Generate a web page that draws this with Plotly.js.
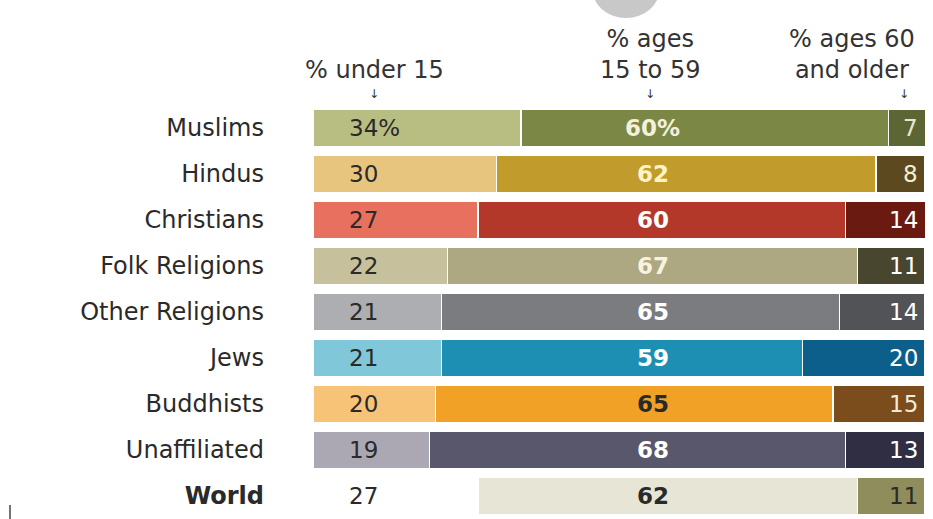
<!DOCTYPE html>
<html>
<head>
<meta charset="utf-8">
<script src="https://cdn.plot.ly/plotly-3.0.1.min.js"></script>
<style>html,body{margin:0;padding:0;background:#fff;}#chart{width:933px;height:519px;}</style>
</head>
<body>
<div id="chart"></div>
<script>
var categories = ["Muslims","Hindus","Christians","Folk Religions","Other Religions","Jews","Buddhists","Unaffiliated","World"];
var under15 = [34,30,27,22,21,21,20,19,27];
var ages15to59 = [60,62,60,67,65,59,65,68,62];
var ages60plus = [7,8,14,11,14,20,15,13,11];
var labels15 = ["34%","30","27","22","21","21","20","19","27"];
var labelsMid = ["60%","62","60","67","65","59","65","68","62"];
var labels60 = ["7","8","14","11","14","20","15","13","11"];
var headers = ["% under 15","% ages<br>15 to 59","% ages 60<br>and older"];

var colUnder = ["#b8be82","#e7c57f","#e8705f","#c6c09d","#adaeb2","#80c8d9","#f7c477","#aba8b3","#ffffff"];
var colMid   = ["#7b8845","#c29b2d","#b3382a","#ada881","#7a7c80","#1c8fb3","#f1a226","#58576b","#e7e5d6"];
var colOld   = ["#5c6635","#5c4920","#6b1a12","#48462f","#515357","#0d5f8b","#7b4c1c","#2f2e42","#8f8d5c"];
var txtMid   = ["#f3f0dc","#fff4c8","#ffffff","#f7f3e0","#ffffff","#ffffff","#2a2a2a","#ffffff","#2a2a2a"];
var txtOld   = ["#e8e6d0","#f4eed6","#ffffff","#ffffff","#ffffff","#ffffff","#f4ead8","#ffffff","#2a2a2a"];

var font = "DejaVu Sans, Liberation Sans, sans-serif";
var idx = categories.map(function(c,i){return i;});
var tickText = categories.map(function(c){return c==="World" ? "<b>World</b>" : c;});

function mk(vals, cols){
  return {type:"bar", orientation:"h", y:idx, x:vals, width:0.8,
    marker:{color:cols, line:{color:"#ffffff", width:1.5}},
    hoverinfo:"none", showlegend:false};
}
var data = [mk(under15,colUnder), mk(ages15to59,colMid), mk(ages60plus,colOld)];

var ann = [];
for (var i=0;i<categories.length;i++){
  ann.push({x:5.5, y:i, xref:"x", yref:"y", text:labels15[i], showarrow:false, xanchor:"left",
    font:{family:font, size:23, color:"#2a2a2a"}});
  ann.push({x:55.5, y:i, xref:"x", yref:"y", text:"<b>"+labelsMid[i]+"</b>", showarrow:false, xanchor:"center",
    font:{family:font, size:23, color:txtMid[i]}});
  ann.push({x:99.2, y:i, xref:"x", yref:"y", text:labels60[i], showarrow:false, xanchor:"right",
    font:{family:font, size:23, color:txtOld[i]}});
}
var hx = [10, 55, 88];
for (var j=0;j<headers.length;j++){
  ann.push({x:hx[j], y:1, xref:"x", yref:"paper", yshift:19, text:headers[j], showarrow:false, xanchor:"center", yanchor:"bottom",
    font:{family:font, size:24, color:"#333"}});
}
var ax = [10, 55, 96.5];
for (var k=0;k<ax.length;k++){
  ann.push({x:ax[k], y:1, xref:"x", yref:"paper", yshift:2, text:"↓", showarrow:false, xanchor:"center", yanchor:"bottom",
    font:{family:font, size:12, color:"#333"}});
}

var layout = {
  width:933, height:519,
  margin:{l:313, r:8, t:105, b:0},
  barmode:"stack", bargap:0.2,
  paper_bgcolor:"#ffffff", plot_bgcolor:"#ffffff",
  xaxis:{range:[0,100], visible:false, fixedrange:true},
  yaxis:{range:[8.5,-0.5], tickvals:idx, ticktext:tickText, ticks:"", showline:false, showgrid:false, zeroline:false,
    ticklabelstandoff:48, tickfont:{family:font, size:24, color:"#2a2a2a"}},
  annotations:ann,
  shapes:[
    {type:"circle", xref:"paper", yref:"paper", layer:"above",
     x0:(592-313)/612, x1:(660-313)/612, y0:1 + 87/414, y1:1 + 147/414,
     fillcolor:"#c8c8c8", line:{width:0}},
    {type:"line", xref:"paper", yref:"paper", x0:(10-313)/612, x1:(10-313)/612, y0:0, y1:14/414,
     line:{color:"#444", width:1.5}}
  ]
};
Plotly.newPlot("chart", data, layout, {staticPlot:true, displayModeBar:false});
</script>
</body>
</html>
